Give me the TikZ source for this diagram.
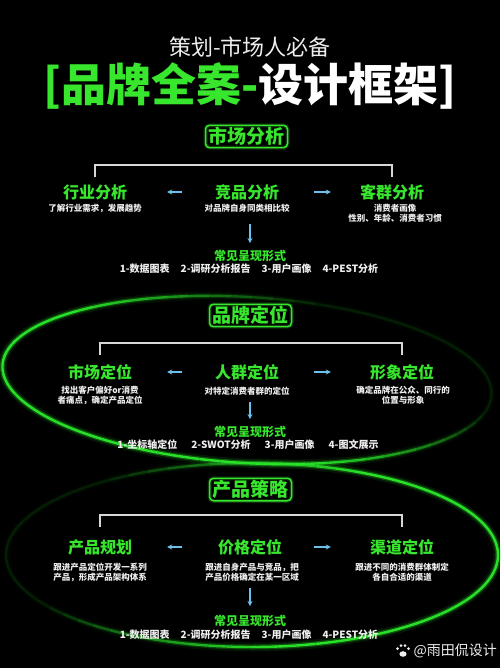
\documentclass[tikz,border=0pt]{standalone}
\usepackage{fontspec}
\setmainfont{Noto Sans CJK SC}
\usetikzlibrary{arrows.meta}

\definecolor{brandgreen}{RGB}{55,230,45}
\definecolor{glowgreen}{RGB}{40,225,40}
\definecolor{arrowblue}{RGB}{110,190,235}
\definecolor{softwhite}{RGB}{238,238,238}
\definecolor{linegrey}{RGB}{215,215,215}

\tikzset{
  secbox/.style={draw=brandgreen, line width=1.5pt, rounded corners=4pt, text=brandgreen,
    font=\fontsize{19}{20}\selectfont\bfseries, inner xsep=3pt, inner ysep=2pt,
    preaction={draw=brandgreen, line width=4pt, opacity=0.2}},
  lab/.style={text=brandgreen, font=\fontsize{16}{18}\selectfont\bfseries, inner sep=1pt},
  desc/.style={text=softwhite, font=\fontsize{8.5}{10}\selectfont\bfseries, align=center, inner sep=1pt},
  form/.style={text=brandgreen, font=\fontsize{12}{14}\selectfont\bfseries, inner sep=1pt},
  items/.style={text=softwhite, font=\fontsize{10}{12}\selectfont\bfseries, inner sep=1pt},
  harr/.style={-{Stealth[length=5pt,width=5pt]}, arrowblue, line width=1.3pt},
  bracket/.style={draw=linegrey, line width=1.2pt}
}

\begin{document}
\begin{tikzpicture}[x=1pt,y=-1pt]
\fill[black] (0,0) rectangle (500,668);
\useasboundingbox (0,0) rectangle (500,668);

% glowing rings
\begin{scope}[rotate around={-3.5:(247,380)}]
  \foreach \a in {0,5,...,355}{
    \pgfmathsetmacro\op{max(0.1,min(1,0.75+0.9*cos(\a+2.5-150)))}
    \foreach \w/\k in {9/0.1,5/0.3,2.4/1}{
      \pgfmathsetmacro\o{\k*\op}
      \draw[glowgreen, line width=\w pt, opacity=\o] ({247+245*cos(\a)},{380+83*sin(\a)})
        arc[start angle=\a, end angle=\a+5, x radius=245, y radius=83];
    }
  }
\end{scope}
\foreach \a in {0,5,...,355}{
  \pgfmathsetmacro\op{max(0.1,min(1,0.75+0.9*cos(\a+2.5-10)))}
  \foreach \w/\k in {9/0.1,5/0.3,2.4/1}{
    \pgfmathsetmacro\o{\k*\op}
    \draw[glowgreen, line width=\w pt, opacity=\o] ({252+246*cos(\a)},{555+92*sin(\a)})
      arc[start angle=\a, end angle=\a+5, x radius=246, y radius=92];
  }
}

% title
\node[text=softwhite, font=\fontsize{22}{24}\selectfont] (sub) at (250,47) {策划-市场人必备};
\node[font=\fontsize{45}{48}\selectfont\bfseries] (title) at (250,86)
  {\textcolor{brandgreen}{[品牌全案-}\textcolor{white}{设计框架]}};

% section 1
\node[secbox] (sec1) at (246.5,136.5) {市场分析};
\node[lab] (hy) at (95,192) {行业分析};
\node[lab] (jp) at (247,192) {竞品分析};
\node[lab] (kq) at (392,192) {客群分析};
\coordinate (top1) at (247,165);
\draw[bracket] ([yshift=6pt]hy.north) |- (top1) -| ([yshift=6pt]kq.north);
\node[desc] (hyd) at (95,208) {了解行业需求，发展趋势};
\node[desc] (jpd) at (247,208) {对品牌自身同类相比较};
\node[desc] (kqd) at (395,213) {消费者画像\\性别、年龄、消费者习惯};
\node[form] (form1) at (250,256) {常见呈现形式};
\node[items] (list1) at (249,269) {1-数据图表\hspace{11pt}2-调研分析报告\hspace{11pt}3-用户画像\hspace{11pt}4-PEST分析};
\draw[harr, shorten <=32pt, shorten >=39pt] (jp.west) -- (hy.east);
\draw[harr, shorten <=34pt, shorten >=28pt] (jp.east) -- (kq.west);
\draw[harr, shorten <=11pt, shorten >=6pt] (jpd.south -| form1.north) -- (form1.north);

% section 2
\node[secbox] (sec2) at (250.5,315.5) {品牌定位};
\node[lab] (scdw) at (100,372) {市场定位};
\node[lab] (rqdw) at (247,372) {人群定位};
\node[lab] (xxdw) at (402,372) {形象定位};
\coordinate (top2) at (250,343);
\draw[bracket] ([yshift=8pt]scdw.north) |- (top2) -| ([yshift=8pt]xxdw.north);
\node[desc] (scdwd) at (100,395.5) {找出客户偏好or消费\\者痛点，确定产品定位};
\node[desc] (rqdwd) at (247,391) {对特定消费者群的定位};
\node[desc] (xxdwd) at (403,395.5) {确定品牌在公众、同行的\\位置与形象};
\node[form] (form2) at (250,432) {常见呈现形式};
\node[items] (list2) at (248,445) {1-坐标轴定位\hspace{14pt}2-SWOT分析\hspace{14pt}3-用户画像\hspace{14pt}4-图文展示};
\draw[harr, shorten <=32pt, shorten >=34pt] (rqdw.west) -- (scdw.east);
\draw[harr, shorten <=34pt, shorten >=38pt] (rqdw.east) -- (xxdw.west);
\draw[harr, shorten <=6pt, shorten >=6pt] (rqdwd.south -| form2.north) -- (form2.north);

% section 3
\node[secbox] (sec3) at (250.5,489.5) {产品策略};
\node[lab] (cpgh) at (100,547) {产品规划};
\node[lab] (jgdw) at (250,547) {价格定位};
\node[lab] (qddw) at (402,547) {渠道定位};
\coordinate (top3) at (250,515);
\draw[bracket] ([yshift=11pt]cpgh.north) |- (top3) -| ([yshift=11pt]qddw.north);
\node[desc] (cpghd) at (100,572) {跟进产品定位开发一系列\\产品，形成产品架构体系};
\node[desc] (jgdwd) at (252,572) {跟进自身产品与竞品，把\\产品价格确定在某一区域};
\node[desc] (qddwd) at (402,572) {跟进不同的消费群体制定\\各自合适的渠道};
\node[form] (form3) at (250,621) {常见呈现形式};
\node[items] (list3) at (249,635) {1-数据图表\hspace{11pt}2-调研分析报告\hspace{11pt}3-用户画像\hspace{11pt}4-PEST分析};
\draw[harr, shorten <=35pt, shorten >=34pt] (jgdw.west) -- (cpgh.east);
\draw[harr, shorten <=31pt, shorten >=38pt] (jgdw.east) -- (qddw.west);
\draw[harr, shorten <=5.5pt, shorten >=8pt] (jgdwd.south -| form3.north) -- (form3.north);

% watermark
\fill[softwhite] (403,654) ellipse (3.6 and 2.8);
\foreach \px/\py in {397.5/648.5,401/645.5,405/645.5,408.5/648.5}
  \fill[softwhite] (\px,\py) circle (1.5);
\node[text=softwhite, font=\fontsize{14}{16}\selectfont, anchor=west] (mark) at (410,651) {@雨田侃设计};
\end{tikzpicture}
\end{document}
